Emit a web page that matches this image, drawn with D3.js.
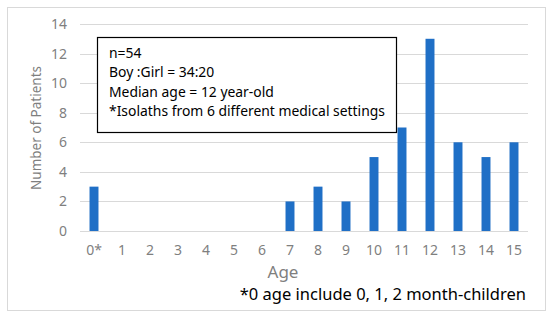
<!DOCTYPE html>
<html>
<head>
<meta charset="utf-8">
<script src="https://cdn.jsdelivr.net/npm/d3@7"></script>
<style>
body { margin: 0; background: #fff; }
text { font-family: "Noto Sans", "Open Sans", sans-serif; }
</style>
</head>
<body>
<svg></svg>
<script>
const width = 550;
const height = 320;
const ages = ['0*', '1', '2', '3', '4', '5', '6', '7', '8', '9', '10', '11', '12', '13', '14', '15'];
const patients = [3, 0, 0, 0, 0, 0, 0, 2, 3, 2, 5, 7, 13, 6, 5, 6];
const yTicks = [0, 2, 4, 6, 8, 10, 12, 14];
const boxLines = [
    'n=54',
    'Boy :Girl = 34:20',
    'Median age = 12 year-old',
    '*Isolaths from 6 different medical settings'
];
const footnote = '*0 age include 0, 1, 2 month-children';

const margin = {top: 24, right: 22, bottom: 89, left: 80};
const svg = d3.select('svg')
    .attr('width', width).attr('height', height);

// outer frame
svg.append('rect')
    .attr('x', 7.5).attr('y', 7.5)
    .attr('width', 538).attr('height', 303)
    .attr('fill', 'none')
    .attr('stroke', '#d9d9d9');

const x = d3.scaleBand()
    .domain(ages)
    .range([margin.left, width - margin.right])
    .paddingInner(0.68)
    .paddingOuter(0.34);

const y = d3.scaleLinear()
    .domain([0, 14])
    .range([height - margin.bottom, margin.top]);

// gridlines
svg.append('g')
    .selectAll('line')
    .data(yTicks)
    .enter().append('line')
    .attr('x1', margin.left)
    .attr('x2', width - margin.right)
    .attr('y1', d => Math.round(y(d)) + 0.5)
    .attr('y2', d => Math.round(y(d)) + 0.5)
    .attr('stroke', '#d9d9d9')
    .attr('stroke-width', 1);

// y axis labels
const yAxis = svg.append('g')
    .attr('transform', `translate(${margin.left - 13},0)`)
    .call(d3.axisLeft(y).tickValues(yTicks).tickSize(0).tickPadding(0));
yAxis.select('.domain').remove();
yAxis.selectAll('text')
    .style('font-size', '14px')
    .style('fill', '#7f7f7f')
    .style('font-family', '"Noto Sans", sans-serif');

// x axis labels
const xAxis = svg.append('g')
    .attr('transform', `translate(0,${height - margin.bottom + 14})`)
    .call(d3.axisBottom(x).tickSize(0).tickPadding(0));
xAxis.select('.domain').remove();
xAxis.selectAll('text')
    .style('font-size', '14px')
    .style('fill', '#7f7f7f')
    .style('font-family', '"Noto Sans", sans-serif');

// bars
svg.append('g')
    .selectAll('rect')
    .data(patients)
    .enter().append('rect')
    .attr('x', (d, i) => x(ages[i]))
    .attr('y', d => y(d))
    .attr('width', x.bandwidth())
    .attr('height', d => y(0) - y(d))
    .attr('fill', '#1f6fc6');

// axis titles
svg.append('text')
    .attr('x', 283)
    .attr('y', 278)
    .attr('text-anchor', 'middle')
    .style('font-size', '17px')
    .style('fill', '#7f7f7f')
    .text('Age');

svg.append('text')
    .attr('transform', 'translate(41,128) rotate(-90)')
    .attr('text-anchor', 'middle')
    .style('font-size', '13.5px')
    .style('fill', '#7f7f7f')
    .text('Number of Patients');

svg.append('text')
    .attr('x', 526)
    .attr('y', 300)
    .attr('text-anchor', 'end')
    .style('font-size', '16.5px')
    .style('fill', '#000')
    .text(footnote);

// info box
const box = svg.append('g');
box.append('rect')
    .attr('x', 97.5).attr('y', 37.5)
    .attr('width', 299).attr('height', 95)
    .attr('fill', '#fff')
    .attr('stroke', '#000')
    .attr('stroke-width', 1.2);
box.selectAll('text')
    .data(boxLines)
    .enter().append('text')
    .attr('x', 109)
    .attr('y', (d, i) => 58 + i * 19.3)
    .style('font-size', '13.9px')
    .style('fill', '#000')
    .text(d => d);
</script>
</body>
</html>
